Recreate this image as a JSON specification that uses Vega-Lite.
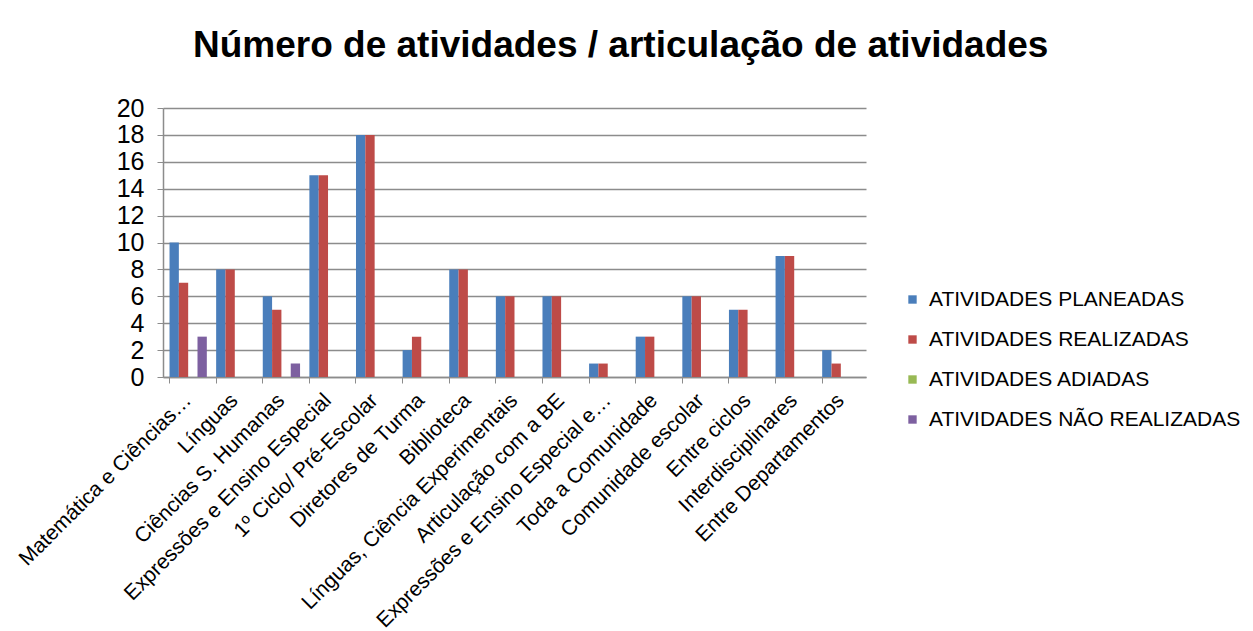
{
  "$schema": "https://vega.github.io/schema/vega-lite/v6.json",
  "autosize": {"type": "none"},
  "width": 703,
  "height": 269,
  "padding": {"left": 163, "top": 108, "right": 387, "bottom": 254},
  "background": "white",
  "title": {
    "text": "Número de atividades / articulação de atividades",
    "font": "Liberation Sans",
    "fontSize": 37,
    "fontWeight": "bold",
    "color": "#000000",
    "anchor": "start",
    "frame": "group",
    "dx": 30,
    "offset": 31
  },
  "data": {
    "values": [
      {"cat": "Matemática e Ciências…", "serie": "ATIVIDADES PLANEADAS", "v": 10},
      {"cat": "Matemática e Ciências…", "serie": "ATIVIDADES REALIZADAS", "v": 7},
      {"cat": "Matemática e Ciências…", "serie": "ATIVIDADES ADIADAS", "v": 0},
      {"cat": "Matemática e Ciências…", "serie": "ATIVIDADES NÃO REALIZADAS", "v": 3},
      {"cat": "Línguas", "serie": "ATIVIDADES PLANEADAS", "v": 8},
      {"cat": "Línguas", "serie": "ATIVIDADES REALIZADAS", "v": 8},
      {"cat": "Ciências S. Humanas", "serie": "ATIVIDADES PLANEADAS", "v": 6},
      {"cat": "Ciências S. Humanas", "serie": "ATIVIDADES REALIZADAS", "v": 5},
      {"cat": "Ciências S. Humanas", "serie": "ATIVIDADES NÃO REALIZADAS", "v": 1},
      {"cat": "Expressões e Ensino Especial", "serie": "ATIVIDADES PLANEADAS", "v": 15},
      {"cat": "Expressões e Ensino Especial", "serie": "ATIVIDADES REALIZADAS", "v": 15},
      {"cat": "1º Ciclo/ Pré-Escolar", "serie": "ATIVIDADES PLANEADAS", "v": 18},
      {"cat": "1º Ciclo/ Pré-Escolar", "serie": "ATIVIDADES REALIZADAS", "v": 18},
      {"cat": "Diretores de Turma", "serie": "ATIVIDADES PLANEADAS", "v": 2},
      {"cat": "Diretores de Turma", "serie": "ATIVIDADES REALIZADAS", "v": 3},
      {"cat": "Biblioteca", "serie": "ATIVIDADES PLANEADAS", "v": 8},
      {"cat": "Biblioteca", "serie": "ATIVIDADES REALIZADAS", "v": 8},
      {"cat": "Línguas, Ciência Experimentais", "serie": "ATIVIDADES PLANEADAS", "v": 6},
      {"cat": "Línguas, Ciência Experimentais", "serie": "ATIVIDADES REALIZADAS", "v": 6},
      {"cat": "Articulação com a BE", "serie": "ATIVIDADES PLANEADAS", "v": 6},
      {"cat": "Articulação com a BE", "serie": "ATIVIDADES REALIZADAS", "v": 6},
      {"cat": "Expressões e Ensino Especial e…", "serie": "ATIVIDADES PLANEADAS", "v": 1},
      {"cat": "Expressões e Ensino Especial e…", "serie": "ATIVIDADES REALIZADAS", "v": 1},
      {"cat": "Toda a Comunidade", "serie": "ATIVIDADES PLANEADAS", "v": 3},
      {"cat": "Toda a Comunidade", "serie": "ATIVIDADES REALIZADAS", "v": 3},
      {"cat": "Comunidade escolar", "serie": "ATIVIDADES PLANEADAS", "v": 6},
      {"cat": "Comunidade escolar", "serie": "ATIVIDADES REALIZADAS", "v": 6},
      {"cat": "Entre ciclos", "serie": "ATIVIDADES PLANEADAS", "v": 5},
      {"cat": "Entre ciclos", "serie": "ATIVIDADES REALIZADAS", "v": 5},
      {"cat": "Interdisciplinares", "serie": "ATIVIDADES PLANEADAS", "v": 9},
      {"cat": "Interdisciplinares", "serie": "ATIVIDADES REALIZADAS", "v": 9},
      {"cat": "Entre Departamentos", "serie": "ATIVIDADES PLANEADAS", "v": 2},
      {"cat": "Entre Departamentos", "serie": "ATIVIDADES REALIZADAS", "v": 1}
    ]
  },
  "mark": {"type": "bar"},
  "encoding": {
    "x": {
      "field": "cat",
      "type": "nominal",
      "sort": null,
      "scale": {
        "domain": ["Matemática e Ciências…", "Línguas", "Ciências S. Humanas", "Expressões e Ensino Especial", "1º Ciclo/ Pré-Escolar", "Diretores de Turma", "Biblioteca", "Línguas, Ciência Experimentais", "Articulação com a BE", "Expressões e Ensino Especial e…", "Toda a Comunidade", "Comunidade escolar", "Entre ciclos", "Interdisciplinares", "Entre Departamentos"],
        "paddingInner": 0.2,
        "paddingOuter": 0.14
      },
      "axis": {
        "title": null,
        "labelAngle": -45,
        "labelAlign": "right",
        "labelBaseline": "middle",
        "labelFont": "Liberation Sans",
        "labelFontSize": 21,
        "labelColor": "#000000",
        "labelPadding": 14,
        "labelLimit": 400,
        "bandPosition": 0,
        "ticks": true,
        "tickSize": 6,
        "tickColor": "#8c8c8c",
        "domainColor": "#8c8c8c",
        "domainWidth": 1.5,
        "grid": false
      }
    },
    "xOffset": {
      "field": "serie",
      "type": "nominal",
      "scale": {"domain": ["ATIVIDADES PLANEADAS", "ATIVIDADES REALIZADAS", "ATIVIDADES ADIADAS", "ATIVIDADES NÃO REALIZADAS"], "paddingInner": 0, "paddingOuter": 0}
    },
    "y": {
      "field": "v",
      "type": "quantitative",
      "scale": {"domain": [0, 20]},
      "axis": {
        "title": null,
        "values": [0, 2, 4, 6, 8, 10, 12, 14, 16, 18, 20],
        "labelFont": "Liberation Sans",
        "labelFontSize": 25,
        "labelColor": "#000000",
        "labelPadding": 13,
        "tickSize": 6,
        "tickColor": "#8c8c8c",
        "domainColor": "#8c8c8c",
        "domainWidth": 1.5,
        "grid": true,
        "gridColor": "#8c8c8c",
        "gridWidth": 1.5
      }
    },
    "color": {
      "field": "serie",
      "type": "nominal",
      "scale": {
        "domain": ["ATIVIDADES PLANEADAS", "ATIVIDADES REALIZADAS", "ATIVIDADES ADIADAS", "ATIVIDADES NÃO REALIZADAS"],
        "range": ["#4a7ebb", "#be4b48", "#98b954", "#7d60a0"]
      },
      "legend": {
        "title": null,
        "orient": "none",
        "legendX": 739,
        "legendY": 181,
        "symbolType": "square",
        "symbolSize": 70,
        "symbolStrokeWidth": 0,
        "labelFont": "Liberation Sans",
        "labelFontSize": 21,
        "labelColor": "#000000",
        "labelOffset": 6,
        "rowPadding": 18,
        "labelLimit": 400
      }
    }
  },
  "config": {"view": {"stroke": null}}
}
